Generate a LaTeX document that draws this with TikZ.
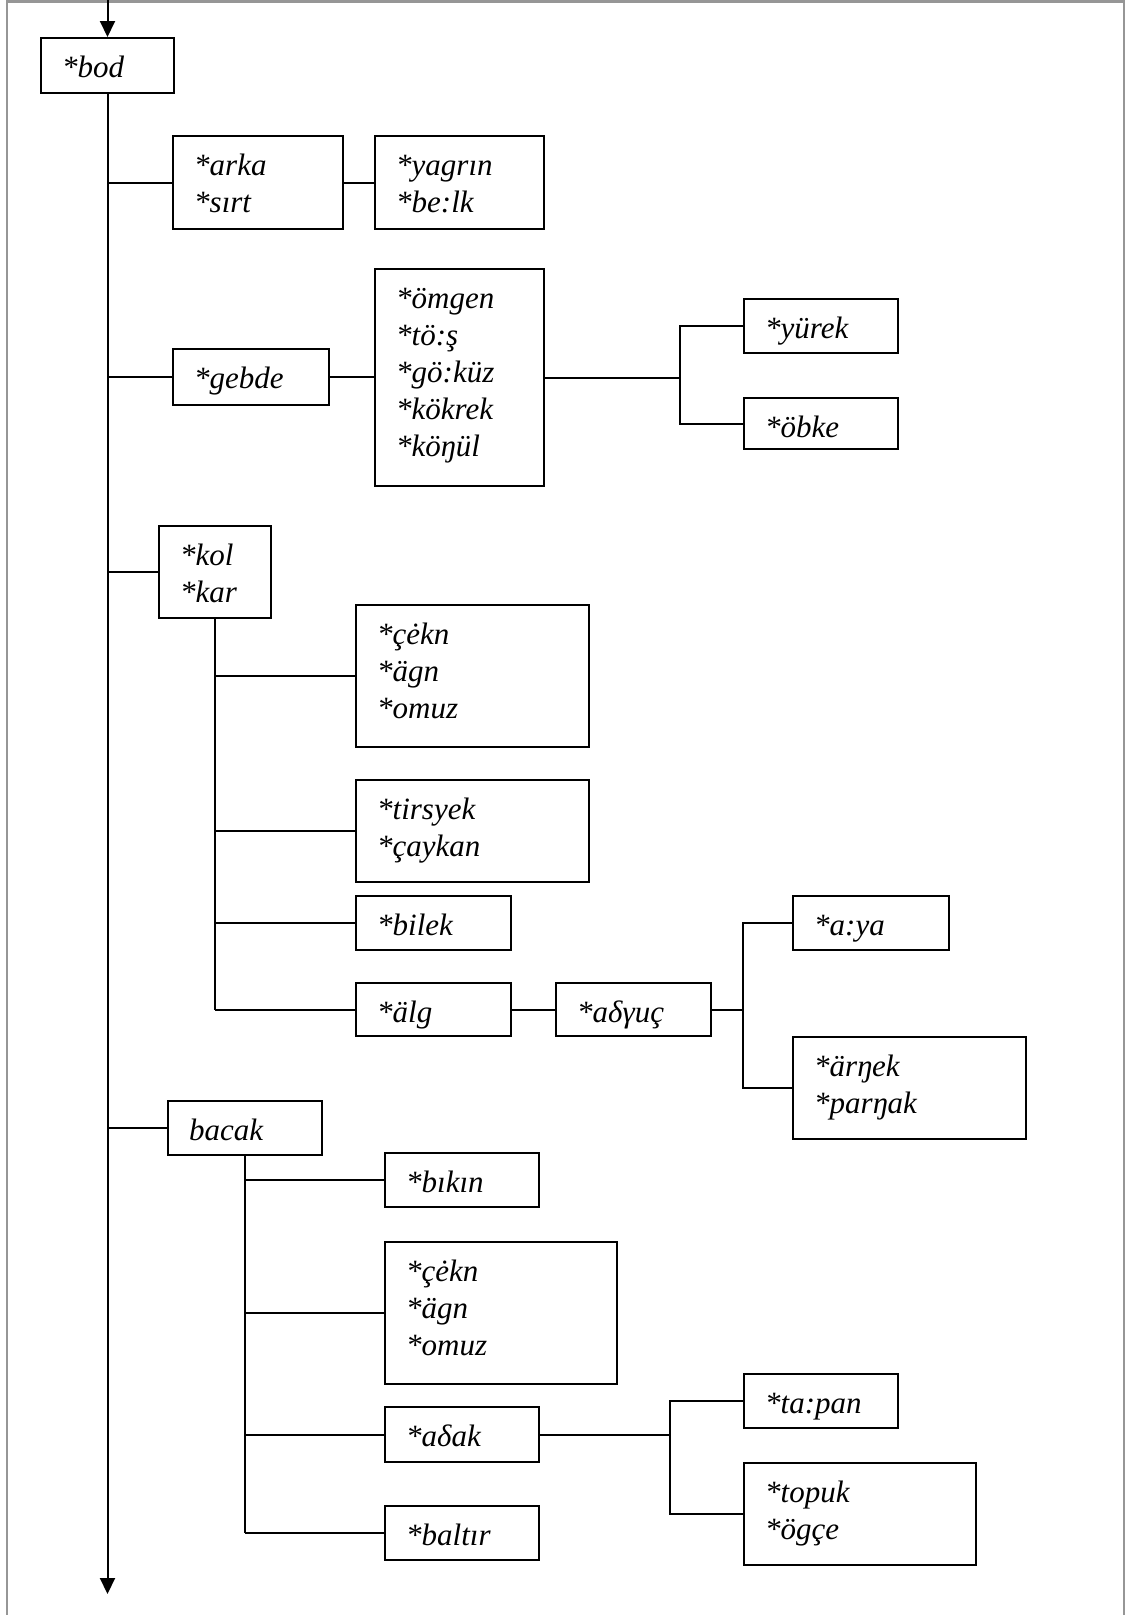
\documentclass[tikz,border=0pt]{standalone}
\usepackage{fontspec}
\setmainfont{Liberation Serif}
\usetikzlibrary{arrows.meta}
\definecolor{framegray}{RGB}{150,150,150}
% one labelled box: name, left, top, width, height, text
\newcommand\wordbox[6]{%
  \node[wbox, minimum width=#4pt, minimum height=#5pt] (#1) at (#2,#3) {};
  \node[wtext] (#1-t) at ([xshift=22pt, yshift=-14pt]#1.north west) {\strut #6};}
\begin{document}
\begin{tikzpicture}[x=1pt, y=-1pt,
  wbox/.style={draw, line width=2pt, inner sep=0pt, anchor=north west},
  wtext/.style={anchor=north west, inner sep=0pt, align=left,
    font=\fontsize{31}{37}\selectfont\itshape},
  link/.style={line width=2pt},
  arr/.style={line width=2pt, -{Triangle[length=16pt, width=15pt]}}]
\useasboundingbox (0,0) rectangle (1129,1615);
\draw[framegray, line width=2.2pt] (7,1615) -- (7,1.5) -- (1124,1.5) -- (1124,1615);

% boxes
\wordbox{bod}{40}{37}{133}{55}{*bod}
\wordbox{arka}{172}{135}{170}{93}{*arka\\*sırt}
\wordbox{yagrin}{374}{135}{169}{93}{*yagrın\\*be:lk}
\wordbox{gebde}{172}{348}{156}{56}{*gebde}
\wordbox{omgen}{374}{268}{169}{217}{*ömgen\\*tö:ş\\*gö:küz\\*kökrek\\*köŋül}
\wordbox{yurek}{743}{298}{154}{54}{*yürek}
\wordbox{obke}{743}{397}{154}{51}{*öbke}
\wordbox{kol}{158}{525}{112}{92}{*kol\\*kar}
\wordbox{cekn}{355}{604}{233}{142}{*çėkn\\*ägn\\*omuz}
\wordbox{tirsyek}{355}{779}{233}{102}{*tirsyek\\*çaykan}
\wordbox{bilek}{355}{895}{155}{54}{*bilek}
\wordbox{alg}{355}{982}{155}{53}{*älg}
\wordbox{aduc}{555}{982}{155}{53}{*aδγuç}
\wordbox{aya}{792}{895}{156}{54}{*a:ya}
\wordbox{arnek}{792}{1036}{233}{102}{*ärŋek\\*parŋak}
\wordbox{bacak}{167}{1100}{154}{54}{bacak}
\wordbox{bikin}{384}{1152}{154}{54}{*bıkın}
\wordbox{cekntwo}{384}{1241}{232}{142}{*çėkn\\*ägn\\*omuz}
\wordbox{adak}{384}{1406}{154}{55}{*aδak}
\wordbox{baltir}{384}{1505}{154}{54}{*baltır}
\wordbox{tapan}{743}{1373}{154}{54}{*ta:pan}
\wordbox{topuk}{743}{1462}{232}{102}{*topuk\\*ögçe}

% main trunk with arrows at both ends
\coordinate (topedge) at (0,0);
\coordinate (botedge) at (0,1594);
\draw[arr] (bod.north |- topedge) -- (bod.north);
\draw[arr] (bod.south) -- (bod.south |- botedge);

% branches off the trunk
\foreach \n in {arka, gebde, kol, bacak}
  \draw[link] (bod.south |- \n.west) -- (\n.west);
\draw[link] (arka.east) -- (yagrin.west);
\draw[link] (gebde.east) -- (omgen.west |- gebde.east);

% heart fork
\coordinate (fa) at (680,0);
\draw[link] (omgen.east) -- (fa |- omgen.east);
\draw[link] (yurek.west) -- (fa |- yurek.west) -- (fa |- obke.west) -- (obke.west);

% arm
\draw[link] (kol.south) -- (kol.south |- alg.west);
\foreach \n in {cekn, tirsyek, bilek, alg}
  \draw[link] (kol.south |- \n.west) -- (\n.west);
\draw[link] (alg.east) -- (aduc.west);
\coordinate (fb) at (743,0);
\draw[link] (aduc.east) -- (fb |- aduc.east);
\draw[link] (aya.west) -- (fb |- aya.west) -- (fb |- arnek.west) -- (arnek.west);

% leg
\draw[link] (bacak.south) -- (bacak.south |- baltir.west);
\foreach \n in {bikin, cekntwo, adak, baltir}
  \draw[link] (bacak.south |- \n.west) -- (\n.west);
\coordinate (fc) at (670,0);
\draw[link] (adak.east) -- (fc |- adak.east);
\draw[link] (tapan.west) -- (fc |- tapan.west) -- (fc |- topuk.west) -- (topuk.west);
\end{tikzpicture}
\end{document}
